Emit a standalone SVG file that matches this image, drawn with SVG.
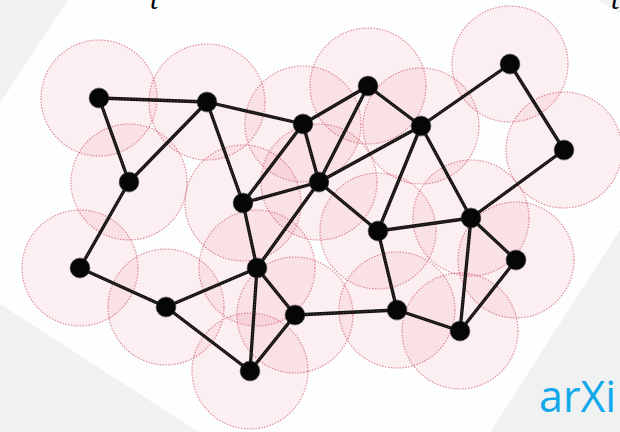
<svg xmlns="http://www.w3.org/2000/svg" width="620" height="432" viewBox="0 0 620 432">
<style>
.halo{fill:#e8566a;fill-opacity:0.085;stroke:#c8374f;stroke-opacity:0.55;stroke-width:1.2;stroke-dasharray:1.5 1.4}
.edge{stroke:#141212;stroke-width:3.3;stroke-linecap:round;fill:none}
.tex{stroke:#9a7a7a;stroke-width:1.1;stroke-dasharray:1 2;stroke-opacity:0.5;fill:none}
.dot{fill:#060606;stroke:#2a2a2a;stroke-width:1.2;stroke-opacity:0.5}
.tlabel{font-family:"Liberation Serif",serif;font-style:italic;font-size:30px;fill:#000}
.arx{font-family:"Open Sans","Liberation Sans",sans-serif;font-size:43px;fill:#12a8ec}
</style>
<rect x="0" y="0" width="620" height="432" fill="#f0f1f1"/>
<polygon points="226,-240 718,77 405,565 -93,244" fill="#fdfefe"/>
<text class="tlabel" x="150" y="9">t</text>
<text class="tlabel" x="611" y="9">t</text>
<g id="halos">
<circle class="halo" cx="99" cy="98" r="58"/>
<circle class="halo" cx="207" cy="102" r="58"/>
<circle class="halo" cx="303" cy="124" r="58"/>
<circle class="halo" cx="368" cy="86" r="58"/>
<circle class="halo" cx="421" cy="126" r="58"/>
<circle class="halo" cx="510" cy="64" r="58"/>
<circle class="halo" cx="564" cy="150" r="58"/>
<circle class="halo" cx="129" cy="182" r="58"/>
<circle class="halo" cx="243" cy="203" r="58"/>
<circle class="halo" cx="319" cy="182" r="58"/>
<circle class="halo" cx="378" cy="231" r="58"/>
<circle class="halo" cx="471" cy="218" r="58"/>
<circle class="halo" cx="516" cy="260" r="58"/>
<circle class="halo" cx="80" cy="268" r="58"/>
<circle class="halo" cx="166" cy="307" r="58"/>
<circle class="halo" cx="257" cy="268" r="58"/>
<circle class="halo" cx="295" cy="315" r="58"/>
<circle class="halo" cx="397" cy="310" r="58"/>
<circle class="halo" cx="460" cy="331" r="58"/>
<circle class="halo" cx="250" cy="371" r="58"/>
</g>
<g id="connectors">
<path class="edge" d="M99,98L207,102 M99,98L129,182 M207,102L129,182 M207,102L303,124 M207,102L243,203 M303,124L368,86 M303,124L243,203 M303,124L319,182 M368,86L421,126 M368,86L319,182 M421,126L319,182 M421,126L510,64 M421,126L378,231 M421,126L471,218 M510,64L564,150 M564,150L471,218 M129,182L80,268 M243,203L319,182 M243,203L257,268 M319,182L378,231 M319,182L257,268 M378,231L471,218 M378,231L397,310 M471,218L516,260 M471,218L460,331 M516,260L460,331 M80,268L166,307 M166,307L257,268 M166,307L250,371 M257,268L295,315 M257,268L250,371 M295,315L250,371 M295,315L397,310 M397,310L460,331"/>
<path class="tex" d="M99,98L207,102 M99,98L129,182 M207,102L129,182 M207,102L303,124 M207,102L243,203 M303,124L368,86 M303,124L243,203 M303,124L319,182 M368,86L421,126 M368,86L319,182 M421,126L319,182 M421,126L510,64 M421,126L378,231 M421,126L471,218 M510,64L564,150 M564,150L471,218 M129,182L80,268 M243,203L319,182 M243,203L257,268 M319,182L378,231 M319,182L257,268 M378,231L471,218 M378,231L397,310 M471,218L516,260 M471,218L460,331 M516,260L460,331 M80,268L166,307 M166,307L257,268 M166,307L250,371 M257,268L295,315 M257,268L250,371 M295,315L250,371 M295,315L397,310 M397,310L460,331"/>
</g>
<g id="n1"><circle class="dot" cx="99" cy="98" r="9.8"/></g>
<g id="n2"><circle class="dot" cx="207" cy="102" r="9.8"/></g>
<g id="n3"><circle class="dot" cx="303" cy="124" r="9.8"/></g>
<g id="n4"><circle class="dot" cx="368" cy="86" r="9.8"/></g>
<g id="n5"><circle class="dot" cx="421" cy="126" r="9.8"/></g>
<g id="n6"><circle class="dot" cx="510" cy="64" r="9.8"/></g>
<g id="n7"><circle class="dot" cx="564" cy="150" r="9.8"/></g>
<g id="n8"><circle class="dot" cx="129" cy="182" r="9.8"/></g>
<g id="n9"><circle class="dot" cx="243" cy="203" r="9.8"/></g>
<g id="n10"><circle class="dot" cx="319" cy="182" r="9.8"/></g>
<g id="n11"><circle class="dot" cx="378" cy="231" r="9.8"/></g>
<g id="n12"><circle class="dot" cx="471" cy="218" r="9.8"/></g>
<g id="n13"><circle class="dot" cx="516" cy="260" r="9.8"/></g>
<g id="n14"><circle class="dot" cx="80" cy="268" r="9.8"/></g>
<g id="n15"><circle class="dot" cx="166" cy="307" r="9.8"/></g>
<g id="n16"><circle class="dot" cx="257" cy="268" r="9.8"/></g>
<g id="n17"><circle class="dot" cx="295" cy="315" r="9.8"/></g>
<g id="n18"><circle class="dot" cx="397" cy="310" r="9.8"/></g>
<g id="n19"><circle class="dot" cx="460" cy="331" r="9.8"/></g>
<g id="n20"><circle class="dot" cx="250" cy="371" r="9.8"/></g>
<text class="arx" x="539" y="412">arXi</text>
</svg>
